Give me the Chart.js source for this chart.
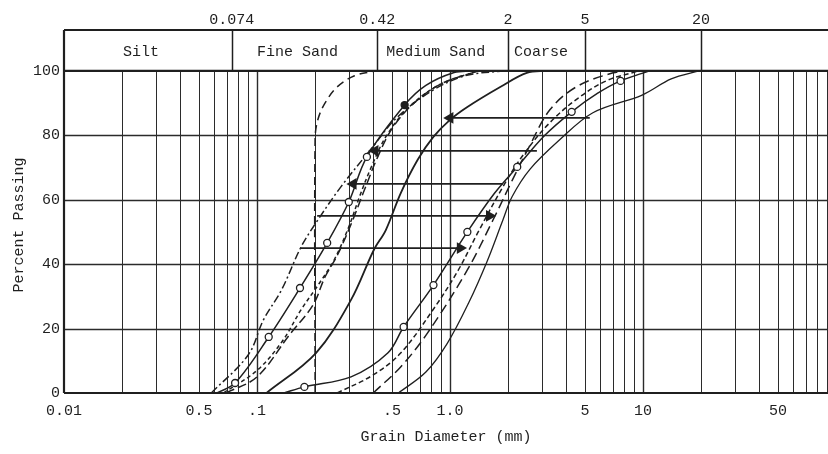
<!DOCTYPE html>
<html>
<head>
<meta charset="utf-8">
<script src="https://cdn.jsdelivr.net/npm/chart.js@4.4.1/dist/chart.umd.min.js"></script>
<style>
  html, body { margin: 0; padding: 0; background: #fff; }
</style>
</head>
<body>
<canvas id="gradation" width="828" height="454"></canvas>
<script>
// --- Axis labels ---
const bandEdges = [0.074, 0.42, 2, 5, 20];
const bandEdgeLabels = ['0.074', '0.42', '2', '5', '20'];
const bandNames = ['Silt', 'Fine Sand', 'Medium Sand', 'Coarse'];
const sizeTicks = [0.01, 0.05, 0.1, 0.5, 1, 5, 10, 50];
const sizeTickLabels = ['0.01', '0.5', '.1', '.5', '1.0', '5', '10', '50'];
const pctTicks = [0, 20, 40, 60, 80, 100];

// --- Fine group (left) ---
const fineCircleSize = [0.062, 0.077, 0.115, 0.167, 0.231, 0.299, 0.371, 0.582, 0.75, 1.05, 1.3];
const fineCirclePct  = [0, 3.1, 17.4, 32.6, 46.6, 59.3, 73.3, 89.4, 95.5, 99.5, 100];
const fineDashDotSize = [0.058, 0.09, 0.108, 0.134, 0.169, 0.202, 0.272, 0.398, 0.52, 0.79, 1.2, 1.9];
const fineDashDotPct  = [0, 11.8, 22.7, 32, 45.3, 52.8, 64, 76.4, 85, 93.5, 98.5, 100];
const fineShortSize = [0.067, 0.1, 0.135, 0.169, 0.21, 0.251, 0.299, 0.34, 0.39, 0.47, 0.62, 0.9, 1.4];
const fineShortPct  = [0, 7, 16, 25.8, 34, 41.3, 51.6, 61, 70, 80, 89, 96, 100];
const fineLongSize = [0.069, 0.1, 0.147, 0.195, 0.225, 0.262, 0.31, 0.36, 0.42, 0.5, 0.65, 0.9, 1.4];
const fineLongPct  = [0, 5, 18, 27.3, 36, 43, 53, 63, 73, 82, 90, 96, 100];
const limitSize = [0.2, 0.2, 0.207, 0.225, 0.26, 0.32, 0.41];
const limitPct  = [0, 79, 85, 90, 95, 98.5, 100];
const midSolidSize = [0.112, 0.202, 0.307, 0.403, 0.465, 0.555, 0.68, 0.82, 1.0, 1.23, 1.82, 2.5, 3.2];
const midSolidPct  = [0, 12.4, 28.9, 44.4, 50.6, 62, 72.4, 79.5, 84.8, 88.8, 95, 99.4, 100];

// --- Coarse group (right) ---
const coarseCircleSize = [0.138, 0.176, 0.307, 0.476, 0.575, 0.821, 1.23, 1.7, 2.23, 3.1, 4.27, 5.8, 7.65, 10.8];
const coarseCirclePct  = [0, 1.9, 5, 12.4, 20.5, 33.5, 50, 62, 70.2, 80, 87.3, 93, 96.9, 100];
const coarseShortSize = [0.26, 0.4, 0.555, 0.82, 1.1, 1.4, 1.88, 2.4, 3.3, 4.6, 6.5, 9.5];
const coarseShortPct  = [0, 5.6, 12.4, 26, 38, 50, 64, 74, 84, 91.5, 97, 100];
const coarseLongSize = [0.4, 0.555, 0.764, 1.23, 1.67, 2.1, 2.6, 3.3, 4.5, 7, 9];
const coarseLongPct  = [0, 8.1, 18.6, 38.2, 53.7, 66, 77, 88, 95, 99.4, 100];
const coarseSolidSize = [0.54, 0.75, 0.97, 1.25, 1.56, 1.88, 2.1, 2.6, 3.7, 5.5, 9.9, 14, 19.5];
const coarseSolidPct  = [0, 6.5, 15.5, 28, 41, 53.7, 61, 69.5, 78.6, 87, 92.5, 97.5, 100];

// --- Shift arrows ---
const arrowPct  = [85.4, 75.2, 64.9, 55, 45];
const arrowFrom = [1.0, 0.409, 0.315, 0.205, 0.167];
const arrowTo   = [5.3, 2.82, 1.88, 1.6, 1.13];
const arrowHeadLeft = [true, true, true, false, false];

const FONT = "'Liberation Mono', 'DejaVu Sans Mono', monospace";
const INK = '#1f1f1f';
const X_MIN = 0.01, X_MAX = 90.9, Y_TOP = 112.7;

function pts(xs, ys) { return xs.map((x, i) => ({ x: x, y: ys[i] })); }

function curve(xs, ys, dash, width, extra) {
  return Object.assign({
    data: pts(xs, ys), borderColor: INK, borderWidth: width, borderDash: dash,
    pointRadius: 0, tension: 0.35, fill: false
  }, extra || {});
}

function markers(n, idx, r) {
  return Array.from({ length: n }, (_, i) => idx.includes(i) ? r : 0);
}

const datasets = [
  curve(fineCircleSize, fineCirclePct, [], 1.5, {
    pointRadius: markers(fineCircleSize.length, [1, 2, 3, 4, 5, 6, 7], 3.5),
    pointBackgroundColor: fineCircleSize.map((_, i) => i === 7 ? INK : '#fff'),
    pointBorderColor: INK, pointBorderWidth: 1.3
  }),
  curve(fineDashDotSize, fineDashDotPct, [8, 3, 2, 3], 1.5),
  curve(fineShortSize, fineShortPct, [4, 3], 1.5),
  curve(fineLongSize, fineLongPct, [9, 4], 1.5),
  curve(limitSize, limitPct, [8, 5], 1.5),
  curve(midSolidSize, midSolidPct, [], 1.8),
  curve(coarseCircleSize, coarseCirclePct, [], 1.5, {
    pointRadius: markers(coarseCircleSize.length, [1, 4, 5, 6, 8, 10, 12], 3.5),
    pointBackgroundColor: '#fff', pointBorderColor: INK, pointBorderWidth: 1.3
  }),
  curve(coarseShortSize, coarseShortPct, [5, 3], 1.5),
  curve(coarseLongSize, coarseLongPct, [10, 5], 1.5),
  curve(coarseSolidSize, coarseSolidPct, [], 1.3)
];

arrowPct.forEach((p, i) => {
  const left = arrowHeadLeft[i];
  datasets.push({
    data: [{ x: arrowFrom[i], y: p }, { x: arrowTo[i], y: p }],
    borderColor: INK, borderWidth: 1.8, tension: 0,
    pointStyle: 'triangle', pointBackgroundColor: INK, pointBorderColor: INK,
    pointRadius: left ? [5, 0] : [0, 5],
    pointRotation: left ? [-90, 0] : [0, 90]
  });
});

// graph-paper grid, header band and side title
const paperGrid = {
  id: 'paperGrid',
  beforeDatasetsDraw(chart) {
    const { ctx, chartArea: a, scales: { x, y } } = chart;
    const y0 = y.getPixelForValue(0), y100 = y.getPixelForValue(100);
    const seg = (x1, y1, x2, y2, w) => {
      ctx.lineWidth = w;
      ctx.beginPath(); ctx.moveTo(x1, y1); ctx.lineTo(x2, y2); ctx.stroke();
    };
    ctx.save();
    ctx.strokeStyle = '#2b2b2b';
    for (let dec = 0.01; dec < X_MAX; dec *= 10) {
      for (let n = 1; n < 10; n++) {
        const v = n * dec;
        if (v <= X_MIN * 1.001 || v > X_MAX) continue;
        const px = Math.round(x.getPixelForValue(v)) + 0.5;
        seg(px, y100, px, y0, n === 1 ? 1.4 : 1);
      }
    }
    [20, 40, 60, 80].forEach(p => {
      const py = Math.round(y.getPixelForValue(p)) + 0.5;
      seg(a.left, py, a.right, py, 1.3);
    });
    ctx.strokeStyle = INK;
    seg(a.left, a.top, a.right, a.top, 2.2);
    seg(a.left, y100, a.right, y100, 2.2);
    seg(a.left, y0, a.right, y0, 2.2);
    seg(a.left, a.top, a.left, y0, 2.2);
    bandEdges.forEach(v => {
      const px = Math.round(x.getPixelForValue(v)) + 0.5;
      seg(px, a.top, px, y100, 1.5);
    });

    ctx.fillStyle = INK;
    ctx.font = '15px ' + FONT;
    ctx.textBaseline = 'middle';
    const ty = (a.top + y100) / 2 + 2;
    const edges = [X_MIN].concat(bandEdges);
    bandNames.forEach((name, i) => {
      const l = x.getPixelForValue(edges[i]), r = x.getPixelForValue(edges[i + 1]);
      if (name === 'Coarse') { ctx.textAlign = 'left'; ctx.fillText(name, l + 6, ty); }
      else { ctx.textAlign = 'center'; ctx.fillText(name, (l + r) / 2 - 7, ty); }
    });

    ctx.translate(19, 225);
    ctx.rotate(-Math.PI / 2);
    ctx.textAlign = 'center';
    ctx.fillText('Percent Passing', 0, 0);
    ctx.restore();
  }
};

const tickFont = { family: FONT, size: 15 };
const noSidePad = s => { s.paddingLeft = 0; s.paddingRight = 0; };

new Chart(document.getElementById('gradation'), {
  type: 'line',
  data: { datasets: datasets },
  options: {
    responsive: false,
    animation: false,
    layout: { padding: 0, autoPadding: false },
    plugins: { legend: { display: false }, tooltip: { enabled: false } },
    scales: {
      x: {
        type: 'logarithmic', position: 'bottom', min: X_MIN, max: X_MAX,
        grid: { display: false, drawTicks: false }, border: { display: false },
        afterBuildTicks: s => { s.ticks = sizeTicks.map(v => ({ value: v })); },
        ticks: { autoSkip: false, maxRotation: 0, padding: 9, color: INK, font: tickFont,
                 callback: (v, i) => sizeTickLabels[i] },
        title: { display: true, text: 'Grain Diameter (mm)', color: INK, font: tickFont,
                 padding: { top: 0, bottom: 8 } },
        afterFit: s => { s.height = 61; noSidePad(s); }
      },
      xTop: {
        type: 'logarithmic', position: 'top', min: X_MIN, max: X_MAX,
        grid: { display: false, drawTicks: false }, border: { display: false },
        afterBuildTicks: s => { s.ticks = bandEdges.map(v => ({ value: v })); },
        ticks: { autoSkip: false, maxRotation: 0, padding: 1, color: INK, font: tickFont,
                 callback: (v, i) => bandEdgeLabels[i] },
        afterFit: s => { s.height = 30; noSidePad(s); }
      },
      y: {
        min: 0, max: Y_TOP,
        grid: { display: false, drawTicks: false }, border: { display: false },
        afterBuildTicks: s => { s.ticks = pctTicks.map(v => ({ value: v })); },
        ticks: { padding: 4, color: INK, font: tickFont },
        afterFit: s => { s.width = 64; }
      }
    }
  },
  plugins: [paperGrid]
});
</script>
</body>
</html>
